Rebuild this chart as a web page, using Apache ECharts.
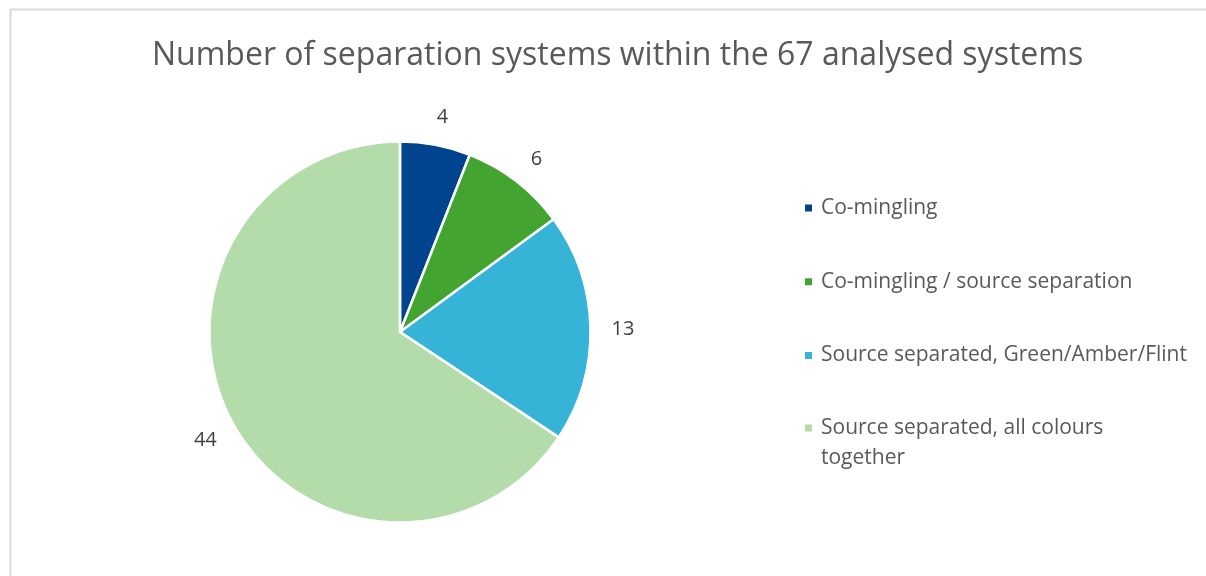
<!DOCTYPE html>
<html><head><meta charset="utf-8">
<script src="https://cdn.jsdelivr.net/npm/echarts@6/dist/echarts.min.js"></script>
<style>html,body{margin:0;padding:0;background:#fff}#c{width:1206px;height:576px}</style>
</head><body><div id="c"></div>
<script>
const titleText = 'Number of separation systems within the 67 analysed systems';
const categories = ['Co-mingling', 'Co-mingling / source separation', 'Source separated, Green/Amber/Flint', 'Source separated, all colours together'];
const values = [4, 6, 13, 44];
const colors = ['#00438F', '#43A52F', '#36B4D8', '#B4DCAB'];

const FONT = '"Open Sans", sans-serif';
const pieData = categories.map((n, i) => ({ name: n, value: values[i], itemStyle: { color: colors[i] } }));
const labelData = categories.map((n, i) => ({ name: n, value: values[i] }));
const LH = 30;
const legendText = { fontFamily: FONT, fontSize: 21, color: '#595959', lineHeight: LH, padding: [0, 0, 0, 3] };

const chart = echarts.init(document.getElementById('c'));
chart.setOption({
  animation: false,
  title: {
    text: titleText, left: 147, top: 35,
    textStyle: { fontFamily: FONT, fontSize: 32, fontWeight: 'normal', color: '#595959' }
  },
  graphic: [{
    type: 'rect', shape: { x: 10.5, y: 9.5, width: 1300, height: 700 },
    style: { fill: 'none', stroke: '#d9d9d9', lineWidth: 2 }, silent: true, z: -10
  }],
  legend: [{
    orient: 'vertical', left: 798, top: 188,
    itemWidth: 9, itemHeight: 9, itemGap: 73.7 - LH,
    icon: 'rect', textStyle: legendText,
    data: categories.slice(0, 3),
    selectedMode: false
  }, {
    orient: 'vertical', left: 798, top: 378,
    itemWidth: 9, itemHeight: 9,
    icon: 'rect', textStyle: legendText,
    data: categories.slice(3),
    formatter: n => ' \nSource separated, all colours\ntogether',
    selectedMode: false
  }],
  series: [{
    type: 'pie', center: [400, 332], radius: 190.5, startAngle: 90, clockwise: true,
    data: pieData,
    itemStyle: { borderColor: '#fff', borderWidth: 2.5 },
    label: { show: false }, labelLine: { show: false }
  }, {
    type: 'pie', center: [400, 332], radius: [198, 240], startAngle: 90, clockwise: true,
    data: labelData, silent: true, legendHoverLink: false,
    itemStyle: { color: 'rgba(0,0,0,0)' },
    label: { show: true, position: 'inside', formatter: '{c}', fontFamily: FONT, fontSize: 20, color: '#404040', offset: [1, 3] },
    labelLine: { show: false }
  }]
});
</script></body></html>
